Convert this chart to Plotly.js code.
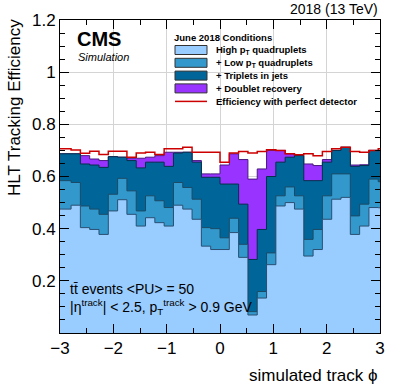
<!DOCTYPE html>
<html>
<head>
<meta charset="utf-8">
<script src="https://cdn.plot.ly/plotly-3.0.1.min.js"></script>
<style>html,body{margin:0;padding:0;background:#fff;}#plot{width:400px;height:388px;}</style>
</head>
<body>
<div id="plot"></div>
<script>
// Histogram binning: 36 bins in phi from -pi to pi
const nBins = 36;
const phiMin = -Math.PI;
const phiMax = Math.PI;

// Cumulative efficiencies per bin
const highPtQuad = [0.475,0.475,0.490,0.404,0.397,0.378,0.468,0.511,0.455,0.410,0.442,0.423,0.410,0.490,0.475,0.436,0.333,0.320,
                    0.320,0.385,0.290,0.069,0.134,0.262,0.487,0.500,0.475,0.295,0.320,0.436,0.513,0.520,0.378,0.410,0.481,0.480];
const plusLowPtQuad = [0.584,0.584,0.577,0.487,0.475,0.455,0.532,0.593,0.545,0.468,0.526,0.507,0.481,0.577,0.558,0.513,0.404,0.400,
                       0.365,0.440,0.340,0.082,0.159,0.307,0.526,0.560,0.526,0.359,0.397,0.526,0.610,0.610,0.449,0.494,0.590,0.580];
const plusTriplets = [0.687,0.687,0.687,0.648,0.644,0.635,0.676,0.674,0.661,0.633,0.655,0.655,0.639,0.690,0.693,0.655,0.597,0.597,
                      0.571,0.571,0.494,0.282,0.397,0.600,0.655,0.674,0.680,0.584,0.584,0.655,0.700,0.712,0.639,0.642,0.700,0.700];
const plusDoublets = [0.687,0.687,0.687,0.680,0.667,0.661,0.676,0.674,0.670,0.670,0.674,0.680,0.693,0.693,0.693,0.661,0.610,0.610,
                      0.644,0.687,0.665,0.590,0.629,0.700,0.700,0.687,0.680,0.648,0.642,0.665,0.700,0.712,0.644,0.645,0.700,0.700];
const perfectDetector = [0.706,0.706,0.702,0.689,0.697,0.684,0.697,0.697,0.674,0.690,0.693,0.684,0.706,0.706,0.712,0.693,0.693,0.693,
                         0.655,0.690,0.696,0.690,0.696,0.703,0.700,0.687,0.683,0.687,0.680,0.696,0.706,0.712,0.696,0.693,0.700,0.706];

const xTickVals = [-3,-2,-1,0,1,2,3];
const yTickVals = [0.2,0.4,0.6,0.8,1.0,1.2];
const yTickText = ['0.2','0.4','0.6','0.8','1','1.2'];

const seriesNames = ['High p<sub>T</sub> quadruplets','+ Low p<sub>T</sub> quadruplets','+ Triplets in jets','+ Doublet recovery','Efficiency with perfect detector'];
const fillColors = ['#99ccff','#3399cc','#006699','#9933ff'];
const redColor = '#cc0000';

const edges = [];
for (let k = 0; k <= nBins; k++) edges.push(phiMin + k * (phiMax - phiMin) / nBins);
function stepY(v) { return v.concat([v[v.length - 1]]); }

function fillTrace(vals, color, lineColor) {
  return {x: edges, y: stepY(vals), type: 'scatter', mode: 'lines',
          line: {shape: 'hv', color: lineColor, width: 1}, fill: 'tozeroy', fillcolor: color, hoverinfo: 'skip'};
}

const data = [
  fillTrace(plusDoublets, fillColors[3], '#4a1a80'),
  fillTrace(plusTriplets, fillColors[2], '#06304a'),
  fillTrace(plusLowPtQuad, fillColors[1], '#1c4a66'),
  fillTrace(highPtQuad, fillColors[0], '#2a4f72'),
  {x: edges, y: stepY(perfectDetector), type: 'scatter', mode: 'lines',
   line: {shape: 'hv', color: redColor, width: 1.5}, hoverinfo: 'skip'}
];

// helpers for paper coords (plot area: x 60..380 px, y 20..333 px)
const px = v => (v - 60) / 320;
const py = v => (333 - v) / 313;

const font = 'Liberation Sans, Arial, Helvetica, sans-serif';
const annotations = [
  {text: '<b>CMS</b>', x: px(75), y: py(39.5), xanchor: 'left', yanchor: 'middle', font: {size: 20, color: '#000'}},
  {text: '<i>Simulation</i>', x: px(76), y: py(57), xanchor: 'left', yanchor: 'middle', font: {size: 11, color: '#000'}},
  {text: '2018 (13 TeV)', x: 1, y: py(9), xanchor: 'right', yanchor: 'middle', font: {size: 14, color: '#000'}},
  {text: 'HLT Tracking Efficiency', x: px(14), y: py(108), xanchor: 'center', yanchor: 'middle', textangle: -90, font: {size: 17, color: '#000'}},
  {text: 'simulated track \u03d5', x: 1, y: py(375), xanchor: 'right', yanchor: 'middle', font: {size: 17, color: '#000'}},
  {text: 'tt\u0304 events &lt;PU&gt; = 50', x: px(68), y: py(289), xanchor: 'left', yanchor: 'middle', font: {size: 14, color: '#000'}},
  {text: '|η<sup>track</sup>| &lt; 2.5, p<sub>T</sub><sup>track</sup> &gt; 0.9 GeV', x: px(68), y: py(307), xanchor: 'left', yanchor: 'middle', font: {size: 14, color: '#000'}},
  {text: '<b>June 2018 Conditions</b>', x: px(172), y: py(37.5), xanchor: 'left', yanchor: 'middle', font: {size: 9.5, color: '#000'}}
];
const rowY = [50, 62.8, 75.6, 88.4, 101.4];
const shapes = [
  {type: 'rect', xref: 'x', yref: 'y', x0: -0.94, x1: 2.57, y0: 0.86, y1: 1.175, fillcolor: '#ffffff', line: {width: 0}, layer: 'below'}
];
for (let i = 0; i < 5; i++) {
  annotations.push({text: '<b>' + seriesNames[i] + '</b>', x: px(214), y: py(rowY[i]), xanchor: 'left', yanchor: 'middle', font: {size: 9.5, color: '#000'}});
  if (i < 4) {
    shapes.push({type: 'rect', xref: 'paper', yref: 'paper', x0: px(175), x1: px(207), y0: py(rowY[i] + 4.5), y1: py(rowY[i] - 4.5),
                 fillcolor: fillColors[i], line: {color: '#333', width: 1}, layer: 'above'});
  } else {
    shapes.push({type: 'line', xref: 'paper', yref: 'paper', x0: px(175), x1: px(207), y0: py(rowY[i]), y1: py(rowY[i]),
                 line: {color: redColor, width: 1.5}, layer: 'above'});
  }
}
annotations.forEach(a => { a.xref = 'paper'; a.yref = 'paper'; a.showarrow = false; a.font.family = font; });

const layout = {
  width: 400, height: 388,
  margin: {l: 60, r: 20, t: 20, b: 55},
  paper_bgcolor: '#fff', plot_bgcolor: '#fff',
  showlegend: false,
  font: {family: font, color: '#000'},
  xaxis: {range: [-3, 3], tickmode: 'array', tickvals: xTickVals, ticks: 'inside', ticklen: 9, tickcolor: '#000',
          showline: true, linecolor: '#000', linewidth: 1, mirror: 'allticks', showgrid: true, gridcolor: '#d4d4d4', gridwidth: 1,
          zeroline: false, tickfont: {size: 17, family: font},
          minor: {dtick: 0.5, tick0: 0, ticks: 'inside', ticklen: 5, tickcolor: '#000', showgrid: false}},
  yaxis: {range: [0, 1.2], tickmode: 'array', tickvals: yTickVals, ticktext: yTickText, ticks: 'inside', ticklen: 9, tickcolor: '#000',
          showline: true, linecolor: '#000', linewidth: 1, mirror: 'allticks', showgrid: true, gridcolor: '#d4d4d4', gridwidth: 1,
          zeroline: false, tickfont: {size: 17, family: font},
          minor: {dtick: 0.05, tick0: 0, ticks: 'inside', ticklen: 5, tickcolor: '#000', showgrid: false}},
  annotations: annotations,
  shapes: shapes
};

Plotly.newPlot('plot', data, layout, {staticPlot: true, displayModeBar: false});
</script>
</body>
</html>
